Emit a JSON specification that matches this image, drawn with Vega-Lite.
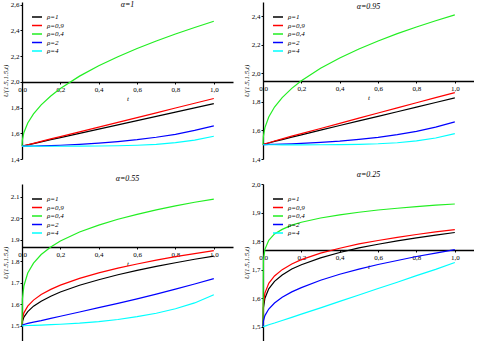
{
"$schema":"https://vega.github.io/schema/vega-lite/v6.json",
"padding":{"left":1,"top":0,"right":0,"bottom":0},
"columns":2,
"spacing":{"row":9,"column":9},
"resolve":{"legend":{"color":"independent"}},
"datasets":{"d":[
{"p":"a","t":0,"r1":1.5,"r09":1.5,"r04":1.5,"r2":1.5,"r4":1.5},
{"p":"a","t":0.002,"r1":1.501,"r09":1.501,"r04":1.549,"r2":1.5,"r4":1.5},
{"p":"a","t":0.01,"r1":1.503,"r09":1.504,"r04":1.606,"r2":1.5,"r4":1.5},
{"p":"a","t":0.03,"r1":1.51,"r09":1.511,"r04":1.68,"r2":1.5,"r4":1.5},
{"p":"a","t":0.06,"r1":1.52,"r09":1.522,"r04":1.751,"r2":1.501,"r4":1.5},
{"p":"a","t":0.1,"r1":1.533,"r09":1.537,"r04":1.821,"r2":1.502,"r4":1.499},
{"p":"a","t":0.15,"r1":1.55,"r09":1.556,"r04":1.89,"r2":1.504,"r4":1.499},
{"p":"a","t":0.2,"r1":1.566,"r09":1.574,"r04":1.948,"r2":1.507,"r4":1.499},
{"p":"a","t":0.3,"r1":1.599,"r09":1.611,"r04":2.044,"r2":1.514,"r4":1.5},
{"p":"a","t":0.4,"r1":1.632,"r09":1.648,"r04":2.125,"r2":1.523,"r4":1.501},
{"p":"a","t":0.5,"r1":1.665,"r09":1.685,"r04":2.195,"r2":1.535,"r4":1.503},
{"p":"a","t":0.6,"r1":1.698,"r09":1.722,"r04":2.259,"r2":1.55,"r4":1.507},
{"p":"a","t":0.7,"r1":1.731,"r09":1.759,"r04":2.317,"r2":1.569,"r4":1.514},
{"p":"a","t":0.8,"r1":1.764,"r09":1.796,"r04":2.371,"r2":1.592,"r4":1.527},
{"p":"a","t":0.9,"r1":1.797,"r09":1.833,"r04":2.422,"r2":1.622,"r4":1.547},
{"p":"a","t":1.0,"r1":1.83,"r09":1.87,"r04":2.47,"r2":1.658,"r4":1.577},
{"p":"b","t":0,"r1":1.5,"r09":1.5,"r04":1.5,"r2":1.5,"r4":1.5},
{"p":"b","t":0.002,"r1":1.502,"r09":1.502,"r04":1.559,"r2":1.5,"r4":1.5},
{"p":"b","t":0.01,"r1":1.505,"r09":1.506,"r04":1.62,"r2":1.501,"r4":1.5},
{"p":"b","t":0.03,"r1":1.512,"r09":1.514,"r04":1.694,"r2":1.502,"r4":1.5},
{"p":"b","t":0.06,"r1":1.523,"r09":1.526,"r04":1.764,"r2":1.503,"r4":1.5},
{"p":"b","t":0.1,"r1":1.536,"r09":1.541,"r04":1.83,"r2":1.504,"r4":1.499},
{"p":"b","t":0.15,"r1":1.553,"r09":1.56,"r04":1.895,"r2":1.506,"r4":1.499},
{"p":"b","t":0.2,"r1":1.569,"r09":1.578,"r04":1.948,"r2":1.509,"r4":1.499},
{"p":"b","t":0.3,"r1":1.602,"r09":1.614,"r04":2.036,"r2":1.516,"r4":1.5},
{"p":"b","t":0.4,"r1":1.635,"r09":1.65,"r04":2.108,"r2":1.525,"r4":1.501},
{"p":"b","t":0.5,"r1":1.667,"r09":1.686,"r04":2.171,"r2":1.537,"r4":1.503},
{"p":"b","t":0.6,"r1":1.699,"r09":1.722,"r04":2.227,"r2":1.552,"r4":1.507},
{"p":"b","t":0.7,"r1":1.731,"r09":1.758,"r04":2.278,"r2":1.571,"r4":1.514},
{"p":"b","t":0.8,"r1":1.763,"r09":1.794,"r04":2.325,"r2":1.594,"r4":1.527},
{"p":"b","t":0.9,"r1":1.796,"r09":1.83,"r04":2.369,"r2":1.623,"r4":1.547},
{"p":"b","t":1.0,"r1":1.828,"r09":1.865,"r04":2.41,"r2":1.66,"r4":1.578},
{"p":"c","t":0,"r1":1.5,"r09":1.5,"r04":1.5,"r2":1.5,"r4":1.5},
{"p":"c","t":0.002,"r1":1.52,"r09":1.533,"r04":1.625,"r2":1.503,"r4":1.5},
{"p":"c","t":0.01,"r1":1.541,"r09":1.561,"r04":1.687,"r2":1.507,"r4":1.501},
{"p":"c","t":0.03,"r1":1.567,"r09":1.592,"r04":1.746,"r2":1.512,"r4":1.502},
{"p":"c","t":0.06,"r1":1.592,"r09":1.62,"r04":1.792,"r2":1.518,"r4":1.503},
{"p":"c","t":0.1,"r1":1.615,"r09":1.646,"r04":1.832,"r2":1.525,"r4":1.504},
{"p":"c","t":0.15,"r1":1.638,"r09":1.67,"r04":1.867,"r2":1.535,"r4":1.506},
{"p":"c","t":0.2,"r1":1.658,"r09":1.69,"r04":1.895,"r2":1.545,"r4":1.508},
{"p":"c","t":0.3,"r1":1.689,"r09":1.721,"r04":1.937,"r2":1.565,"r4":1.513},
{"p":"c","t":0.4,"r1":1.715,"r09":1.747,"r04":1.969,"r2":1.585,"r4":1.52},
{"p":"c","t":0.5,"r1":1.738,"r09":1.769,"r04":1.996,"r2":1.605,"r4":1.53},
{"p":"c","t":0.6,"r1":1.758,"r09":1.788,"r04":2.019,"r2":1.626,"r4":1.543},
{"p":"c","t":0.7,"r1":1.777,"r09":1.806,"r04":2.04,"r2":1.648,"r4":1.559},
{"p":"c","t":0.8,"r1":1.794,"r09":1.822,"r04":2.058,"r2":1.671,"r4":1.58},
{"p":"c","t":0.9,"r1":1.81,"r09":1.836,"r04":2.075,"r2":1.695,"r4":1.607},
{"p":"c","t":1.0,"r1":1.825,"r09":1.85,"r04":2.09,"r2":1.72,"r4":1.645},
{"p":"d","t":0,"r1":1.5,"r09":1.5,"r04":1.5,"r2":1.5,"r4":1.5},
{"p":"d","t":0.002,"r1":1.566,"r09":1.581,"r04":1.731,"r2":1.52,"r4":1.5},
{"p":"d","t":0.01,"r1":1.6,"r09":1.618,"r04":1.771,"r2":1.539,"r4":1.502},
{"p":"d","t":0.03,"r1":1.633,"r09":1.652,"r04":1.803,"r2":1.562,"r4":1.507},
{"p":"d","t":0.06,"r1":1.659,"r09":1.678,"r04":1.825,"r2":1.583,"r4":1.513},
{"p":"d","t":0.1,"r1":1.681,"r09":1.7,"r04":1.841,"r2":1.603,"r4":1.522},
{"p":"d","t":0.15,"r1":1.702,"r09":1.72,"r04":1.856,"r2":1.622,"r4":1.533},
{"p":"d","t":0.2,"r1":1.717,"r09":1.735,"r04":1.866,"r2":1.637,"r4":1.544},
{"p":"d","t":0.3,"r1":1.741,"r09":1.758,"r04":1.881,"r2":1.663,"r4":1.566},
{"p":"d","t":0.4,"r1":1.76,"r09":1.775,"r04":1.892,"r2":1.684,"r4":1.589},
{"p":"d","t":0.5,"r1":1.776,"r09":1.79,"r04":1.901,"r2":1.702,"r4":1.611},
{"p":"d","t":0.6,"r1":1.789,"r09":1.802,"r04":1.909,"r2":1.718,"r4":1.634},
{"p":"d","t":0.7,"r1":1.801,"r09":1.813,"r04":1.915,"r2":1.732,"r4":1.656},
{"p":"d","t":0.8,"r1":1.811,"r09":1.823,"r04":1.921,"r2":1.746,"r4":1.679},
{"p":"d","t":0.9,"r1":1.821,"r09":1.832,"r04":1.926,"r2":1.758,"r4":1.701},
{"p":"d","t":1.0,"r1":1.83,"r09":1.84,"r04":1.93,"r2":1.77,"r4":1.725}
]},
"concat":[
{"width":211,"height":157,"title":{"text":"α=1","dy":-1.5},
 "data":{"name":"d"},
 "transform":[{"filter":"datum.p=='a'"},{"fold":["r1","r09","r04","r2","r4"],"as":["rho","u"]}],
 "mark":{"type":"line","strokeWidth":1.2},
 "encoding":{
  "x":{"field":"t","type":"quantitative","scale":{"domain":[0,1.1],"nice":false},"axis":{"title":"t","values":[0,0.2,0.4,0.6,0.8,1],"labelExpr":"replace(format(datum.value,'.1f'),'.',',')","offset":-77}},
  "y":{"field":"u","type":"quantitative","scale":{"domain":[1.4,2.62],"nice":false,"zero":false},"axis":{"title":"U(1.5,1.5,t)","values":[1.4,1.6,1.8,2.0,2.2,2.4,2.6],"labelExpr":"replace(format(datum.value,'.1f'),'.',',')"}},
  "color":{"field":"rho","type":"nominal","sort":["r1","r09","r04","r2","r4"],"scale":{"domain":["r1","r09","r04","r2","r4"],"range":["#000000","#ff0000","#22ee22","#0000ff","#00ffff"]},
   "legend":{"labelExpr":"datum.label=='r1'?'ρ=1':datum.label=='r09'?'ρ=0,9':datum.label=='r04'?'ρ=0,4':datum.label=='r2'?'ρ=2':'ρ=4'"}}
 }},
{"width":211,"height":157,"title":{"text":"α=0.95","dy":-1.5},
 "data":{"name":"d"},
 "transform":[{"filter":"datum.p=='b'"},{"fold":["r1","r09","r04","r2","r4"],"as":["rho","u"]}],
 "mark":{"type":"line","strokeWidth":1.2},
 "encoding":{
  "x":{"field":"t","type":"quantitative","scale":{"domain":[0,1.1],"nice":false},"axis":{"title":"t","values":[0,0.2,0.4,0.6,0.8,1],"labelExpr":"replace(format(datum.value,'.1f'),'.',',')","offset":-78}},
  "y":{"field":"u","type":"quantitative","scale":{"domain":[1.4,2.5],"nice":false,"zero":false},"axis":{"title":"U(1.5,1.5,t)","values":[1.4,1.6,1.8,2.0,2.2,2.4],"labelExpr":"replace(format(datum.value,'.1f'),'.',',')"}},
  "color":{"field":"rho","type":"nominal","sort":["r1","r09","r04","r2","r4"],"scale":{"domain":["r1","r09","r04","r2","r4"],"range":["#000000","#ff0000","#22ee22","#0000ff","#00ffff"]},
   "legend":{"labelExpr":"datum.label=='r1'?'ρ=1':datum.label=='r09'?'ρ=0,9':datum.label=='r04'?'ρ=0,4':datum.label=='r2'?'ρ=2':'ρ=4'"}}
 }},
{"width":211,"height":157,"title":{"text":"α=0.55","dy":-11},
 "data":{"name":"d"},
 "transform":[{"filter":"datum.p=='c'"},{"fold":["r1","r09","r04","r2","r4"],"as":["rho","u"]}],
 "mark":{"type":"line","strokeWidth":1.2},
 "encoding":{
  "x":{"field":"t","type":"quantitative","scale":{"domain":[0,1.1],"nice":false},"axis":{"title":"t","values":[0,0.2,0.4,0.6,0.8,1],"labelExpr":"replace(format(datum.value,'.1f'),'.',',')","offset":-94}},
  "y":{"field":"u","type":"quantitative","scale":{"domain":[1.43,2.16],"nice":false,"zero":false},"axis":{"title":"U(1.5,1.5,t)","values":[1.5,1.6,1.7,1.8,1.9,2.0,2.1],"format":".1f"}},
  "color":{"field":"rho","type":"nominal","sort":["r1","r09","r04","r2","r4"],"scale":{"domain":["r1","r09","r04","r2","r4"],"range":["#000000","#ff0000","#22ee22","#0000ff","#00ffff"]},
   "legend":{"labelExpr":"datum.label=='r1'?'ρ=1':datum.label=='r09'?'ρ=0,9':datum.label=='r04'?'ρ=0,4':datum.label=='r2'?'ρ=2':'ρ=4'"}}
 }},
{"width":211,"height":157,"title":{"text":"α=0.25","dy":-11},
 "data":{"name":"d"},
 "transform":[{"filter":"datum.p=='d'"},{"fold":["r1","r09","r04","r2","r4"],"as":["rho","u"]}],
 "mark":{"type":"line","strokeWidth":1.2},
 "encoding":{
  "x":{"field":"t","type":"quantitative","scale":{"domain":[0,1.1],"nice":false},"axis":{"title":"t","values":[0,0.2,0.4,0.6,0.8,1],"labelExpr":"replace(format(datum.value,'.1f'),'.',',')","offset":-91}},
  "y":{"field":"u","type":"quantitative","scale":{"domain":[1.45,2.0],"nice":false,"zero":false},"axis":{"title":"U(1.5,1.5,t)","values":[1.5,1.6,1.7,1.8,1.9,2.0],"labelExpr":"replace(format(datum.value,'.1f'),'.',',')"}},
  "color":{"field":"rho","type":"nominal","sort":["r1","r09","r04","r2","r4"],"scale":{"domain":["r1","r09","r04","r2","r4"],"range":["#000000","#ff0000","#22ee22","#0000ff","#00ffff"]},
   "legend":{"labelExpr":"datum.label=='r1'?'ρ=1':datum.label=='r09'?'ρ=0,9':datum.label=='r04'?'ρ=0,4':datum.label=='r2'?'ρ=2':'ρ=4'"}}
 }}
],
"config":{
 "view":{"stroke":null},
 "axis":{"grid":false,"domainColor":"#000","domainWidth":1.3,"tickColor":"#000","tickSize":2,"labelFont":"Liberation Serif","labelFontSize":7,"labelColor":"#000","labelPadding":1,"labelFlush":false,"labelOverlap":false,"titleFont":"Liberation Serif","titleFontStyle":"italic","titleFontWeight":"normal","titleFontSize":7,"titleColor":"#000","titlePadding":2},
 "title":{"font":"Liberation Serif","fontStyle":"italic","fontWeight":"normal","fontSize":8,"color":"#000","offset":-10,"anchor":"middle","frame":"group"},
 "legend":{"orient":"top-left","offset":10,"padding":0,"title":null,"symbolType":"M-1.25,0H1.25","symbolSize":64,"symbolStrokeWidth":1.5,"labelFont":"Liberation Serif","labelFontStyle":"italic","labelFontSize":7,"labelColor":"#000","labelOffset":5,"rowPadding":0.5}
}
}
